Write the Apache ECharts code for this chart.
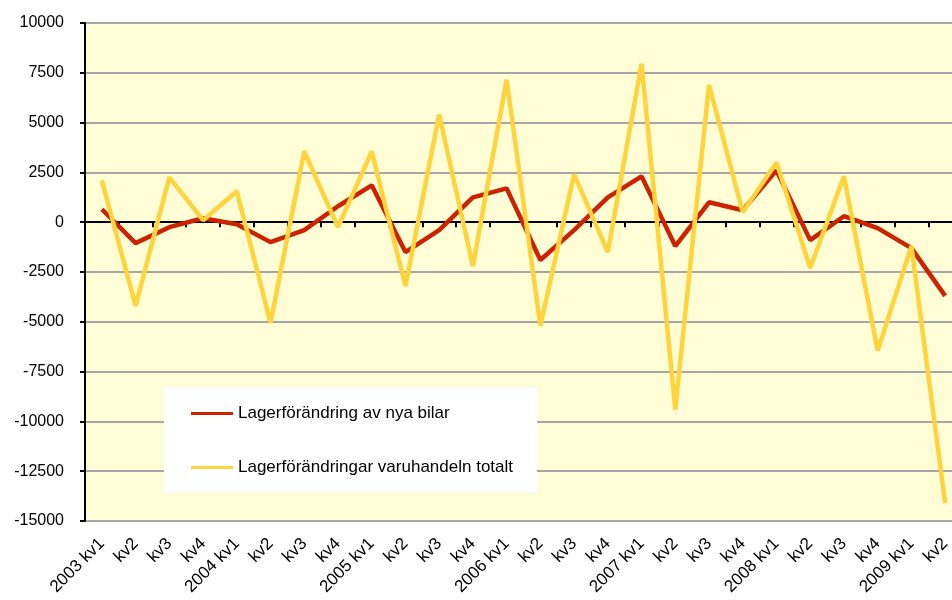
<!DOCTYPE html>
<html lang="sv">
<head>
    <meta charset="UTF-8">
    <title>Lagerförändring</title>
    <script src="https://cdn.jsdelivr.net/npm/echarts@6.0.0/dist/echarts.min.js"></script>
    <style>
        body { margin: 0; background: #fff; }
    </style>
</head>
<body>
    <div id="main" style="width: 952px;height:600px;"></div>
    <script type="text/javascript">
        // quarters 2003 kv1 .. 2009 kv2
        const categories = [
            '2003 kv1', 'kv2', 'kv3', 'kv4',
            '2004 kv1', 'kv2', 'kv3', 'kv4',
            '2005 kv1', 'kv2', 'kv3', 'kv4',
            '2006 kv1', 'kv2', 'kv3', 'kv4',
            '2007 kv1', 'kv2', 'kv3', 'kv4',
            '2008 kv1', 'kv2', 'kv3', 'kv4',
            '2009 kv1', 'kv2'
        ];
        const nyaBilar = [650, -1050, -250, 200, -100, -1000, -400, 800, 1850, -1500, -400, 1250, 1700,
            -1900, -400, 1250, 2300, -1200, 1000, 600, 2600, -900, 300, -300, -1300, -3700];
        const totalt = [2100, -4200, 2250, 100, 1550, -5050, 3550, -250, 3550, -3200, 5400, -2200, 7150,
            -5200, 2400, -1500, 7950, -9400, 6900, 500, 3000, -2300, 2300, -6450, -1200, -14100];
        const seriesNames = ['Lagerförändring av nya bilar', 'Lagerförändringar varuhandeln totalt'];

        const font = '"Liberation Sans", Arial, sans-serif';

        let options = {
            animation: false,
            grid: {
                left: 85, top: 23, right: -10, bottom: 79,
                show: true, backgroundColor: '#FFFDD6', borderWidth: 0,
                outerBoundsMode: 'none'
            },
            legend: {
                orient: 'vertical',
                left: 164, top: 387,
                backgroundColor: '#fff',
                padding: [16, 24, 15, 27],
                itemGap: 33,
                itemWidth: 42, itemHeight: 3,
                icon: 'rect',
                textStyle: { fontFamily: font, fontSize: 17, color: '#000', lineHeight: 21 },
                data: seriesNames
            },
            xAxis: [{
                type: 'category',
                data: categories,
                boundaryGap: true,
                axisLine: { onZero: true, lineStyle: { color: '#000', width: 2 } },
                axisTick: { show: true, interval: 0, length: 5, lineStyle: { color: '#000', width: 2 } },
                axisLabel: { show: false },
                splitLine: { show: false }
            }, {
                type: 'category',
                data: categories,
                position: 'bottom',
                boundaryGap: true,
                axisLine: { show: false, onZero: false },
                axisTick: { show: false },
                axisLabel: {
                    interval: 0, rotate: 45, margin: 20,
                    fontFamily: font, fontSize: 17, color: '#000'
                }
            }],
            yAxis: {
                type: 'value',
                min: -15000, max: 10000, interval: 2500,
                axisLine: { show: true, lineStyle: { color: '#000', width: 2 } },
                axisTick: { show: true, length: 5, lineStyle: { color: '#000', width: 2 } },
                axisLabel: {
                    margin: 21, fontFamily: font, fontSize: 16, color: '#000',
                    formatter: (v) => String(v)
                },
                splitLine: { show: true, lineStyle: { color: '#A6A6A6', width: 2 } }
            },
            series: [{
                name: seriesNames[0],
                type: 'line',
                data: nyaBilar,
                symbol: 'none',
                itemStyle: { color: '#CC2200' },
                lineStyle: { color: '#CC2200', width: 4.5 }
            }, {
                name: seriesNames[1],
                type: 'line',
                data: totalt,
                symbol: 'none',
                itemStyle: { color: '#FFD33C' },
                lineStyle: { color: '#FFD33C', width: 4.5 }
            }]
        };

        let myChart = echarts.init(document.getElementById('main'));
        myChart.setOption(options);
    </script>
</body>
</html>
